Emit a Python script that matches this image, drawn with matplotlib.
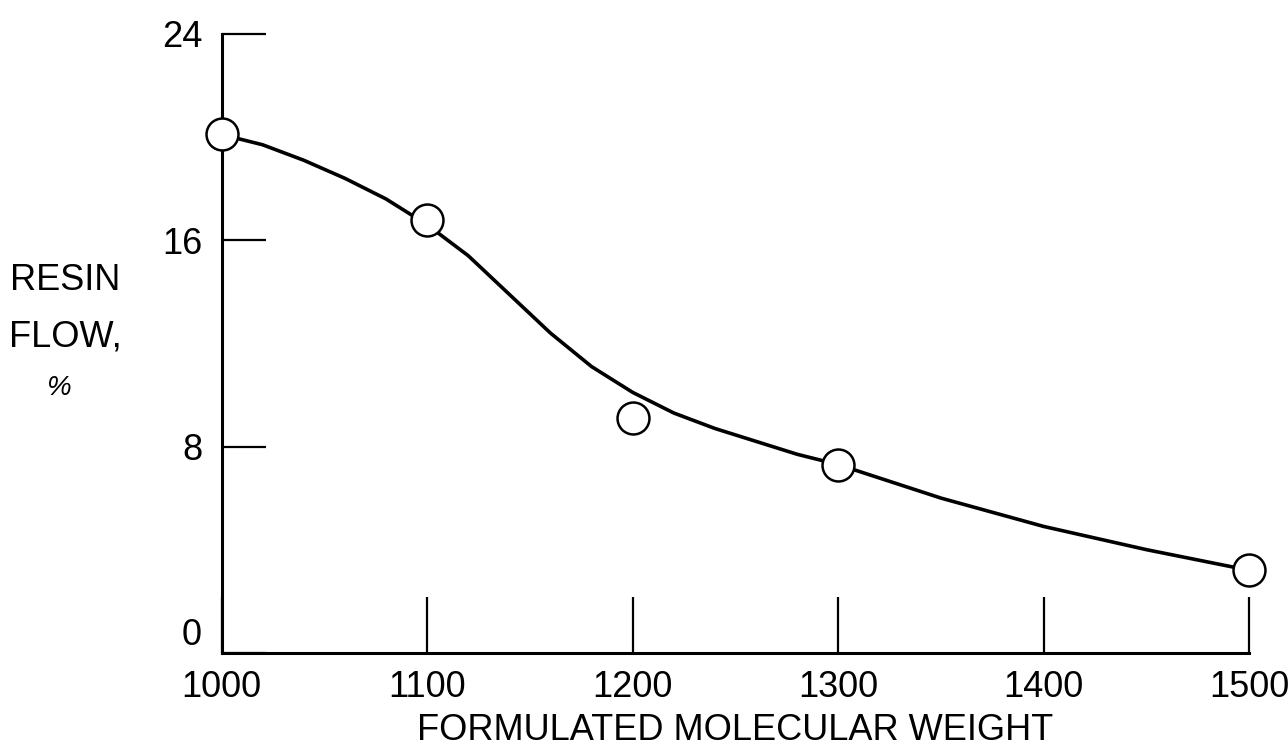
import matplotlib.pyplot as plt

# measured points (open circles)
mol_weight = [1000, 1100, 1200, 1300, 1500]
resin_flow = [20.1, 16.8, 9.1, 7.3, 3.2]

# faired curve
curve_x = [1000, 1020, 1040, 1060, 1080, 1100, 1120, 1140, 1160, 1180, 1200,
           1220, 1240, 1260, 1280, 1300, 1350, 1400, 1450, 1500]
curve_y = [20.1, 19.7, 19.1, 18.4, 17.6, 16.6, 15.4, 13.9, 12.4, 11.1, 10.1,
           9.3, 8.7, 8.2, 7.7, 7.3, 6.0, 4.9, 4.0, 3.2]

x_ticks = [1000, 1100, 1200, 1300, 1400, 1500]
y_ticks = [0, 8, 16, 24]

plt.rcParams["font.family"] = ["Liberation Sans", "DejaVu Sans"]

fig = plt.figure(figsize=(12.88, 7.53), dpi=100)
ax = fig.add_axes([0.172, 0.133, 0.798, 0.822])

ax.plot(curve_x, curve_y, color="black", linewidth=2.6, zorder=2,
        solid_joinstyle="round")
ax.plot(mol_weight, resin_flow, linestyle="none", marker="o", markersize=23,
        markerfacecolor="white", markeredgecolor="black",
        markeredgewidth=1.8, zorder=3, clip_on=False)

ax.set_xlim(1000, 1500)
ax.set_ylim(0, 24)
ax.set_xticks(x_ticks)
ax.set_yticks(y_ticks)

for side in ["top", "right"]:
    ax.spines[side].set_visible(False)
for side in ["left", "bottom"]:
    ax.spines[side].set_linewidth(2.2)

ax.tick_params(axis="y", direction="in", length=32, width=1.6,
               labelsize=26, pad=14)
ax.tick_params(axis="x", direction="in", length=40, width=1.6,
               labelsize=26, pad=12)

# the "0" sits just above the x labels, as in the original
ax.get_yticklabels()[0].set_va("bottom")

ax.set_xlabel("FORMULATED MOLECULAR WEIGHT", fontsize=26, labelpad=6)

fig.text(65 / 1288, 1 - 281 / 753, "RESIN", fontsize=26, ha="center", va="center")
fig.text(65 / 1288, 1 - 337 / 753, "FLOW,", fontsize=26, ha="center", va="center")
fig.text(58 / 1288, 1 - 388 / 753, "%", fontsize=20, ha="center", va="center",
         style="italic")

fig.savefig("out.png", dpi=100)
